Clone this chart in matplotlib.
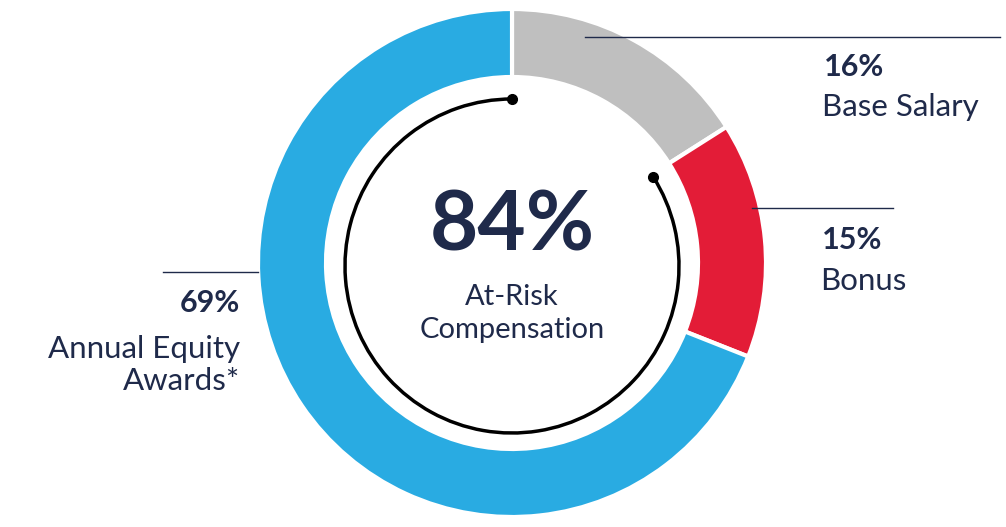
import matplotlib.pyplot as plt
from matplotlib.patches import Arc
import numpy as np

labels = ['Base Salary', 'Bonus', 'Annual Equity\nAwards*']
pcts = ['16%', '15%', '69%']
values = [16, 15, 69]
colors = ['#bfbfbf', '#e31c37', '#29abe2']
at_risk = 84
navy = '#1f2a4a'

plt.rcParams['font.family'] = ['Lato', 'DejaVu Sans']

fig = plt.figure(figsize=(10.06, 5.27), dpi=100)
ax = fig.add_axes([0, 0, 1, 1])

cx, cy, r = 512, 264, 254
ax.pie(values, colors=colors, startangle=90, counterclock=False, center=(cx, cy), radius=r,
       wedgeprops=dict(width=68, edgecolor='white', linewidth=3), frame=True)
ax.set_xlim(0, 1006)
ax.set_ylim(0, 527)
ax.set_aspect('equal')
ax.axis('off')

# at-risk arc
ar = 167
span = at_risk / 100 * 360
ax.add_patch(Arc((cx, cy - 3), 2 * ar, 2 * ar, theta1=90, theta2=90 + span, color='black', lw=2.5))
for th in (90, 90 + span):
    t = np.radians(th)
    ax.plot(cx + ar * np.cos(t), cy - 3 + ar * np.sin(t), 'o', color='black', ms=7)

ax.text(cx, 300, f'{at_risk}%', ha='center', va='center', fontsize=60, fontweight='bold', color=navy)
ax.text(cx, 230, 'At-Risk', ha='center', va='center', fontsize=21, color=navy)
ax.text(cx, 197, 'Compensation', ha='center', va='center', fontsize=21, color=navy)

# callouts
ax.plot([585, 1000], [490, 490], color=navy, lw=1)
ax.text(824, 460, pcts[0], fontsize=22, fontweight='bold', color=navy, va='center')
ax.text(822, 420, labels[0], fontsize=22.5, color=navy, va='center')
ax.plot([752, 893], [319, 319], color=navy, lw=1)
ax.text(822, 287, pcts[1], fontsize=22, fontweight='bold', color=navy, va='center')
ax.text(820, 246, labels[1], fontsize=22.5, color=navy, va='center')
ax.plot([163, 258], [255, 255], color=navy, lw=1)
ax.text(240, 224, pcts[2], fontsize=22, fontweight='bold', color=navy, va='center', ha='right')
ax.text(240, 162, labels[2], fontsize=22.5, color=navy, va='center', ha='right', linespacing=1.2)

fig.savefig('out.png', dpi=100)
